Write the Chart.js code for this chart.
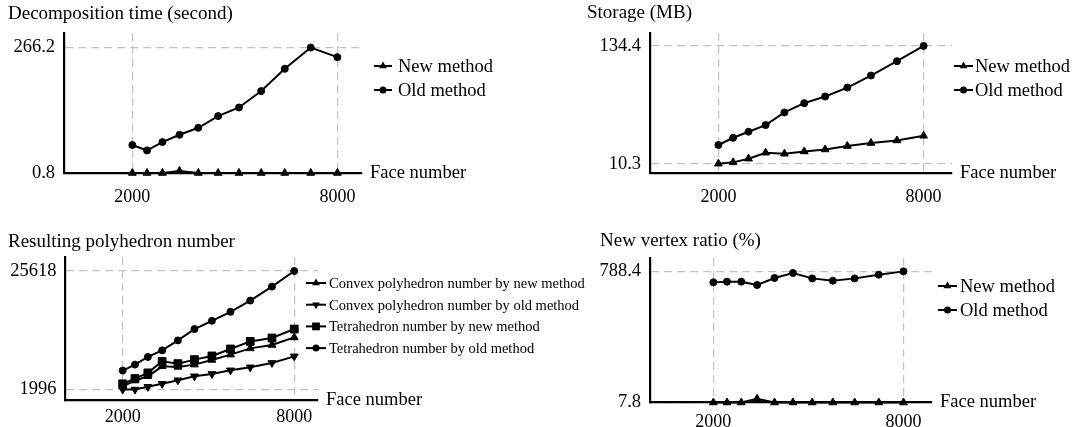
<!DOCTYPE html>
<html>
<head>
<meta charset="utf-8">
<script src="https://cdn.jsdelivr.net/npm/chart.js"></script>
<style>
  html, body { margin: 0; padding: 0; background: #fff; }
  #wrap { position: relative; width: 1079px; height: 427px; overflow: hidden; }
  #wrap canvas { position: absolute; left: 0; top: 0; }
</style>
</head>
<body>
<div id="wrap">
  <canvas id="c1" width="1079" height="427"></canvas>
  <canvas id="c2" width="1079" height="427"></canvas>
  <canvas id="c3" width="1079" height="427"></canvas>
  <canvas id="c4" width="1079" height="427"></canvas>
</div>
<script>
// face numbers (x values)
const faceNumbers = [2000, 2430, 2880, 3380, 3930, 4510, 5120, 5770, 6460, 7220, 8000];
const xTicks = [2000, 8000];

// decomposition time (second)
const timeNew = [0.8, 0.8, 0.8, 5, 0.8, 0.8, 0.8, 0.8, 0.8, 0.8, 0.8];
const timeOld = [60.0, 48.6, 66.3, 81.7, 96.5, 121.2, 139.4, 174.1, 221.2, 266.2, 245.9];
const timeTicks = [0.8, 266.2];

// storage (MB)
const storageNew = [10.3, 11.7, 15.6, 21.9, 20.8, 23.2, 25.3, 28.9, 32.1, 34.8, 39.7];
const storageOld = [30.0, 37.6, 44.0, 51.0, 64.3, 74.1, 81.1, 90.5, 103.2, 118.3, 134.4];
const storageTicks = [10.3, 134.4];

// resulting polyhedron number
const convexNew = [2651, 3783, 4636, 6621, 6502, 6959, 7891, 8944, 10194, 10869, 12378];
const convexOld = [1996, 1996, 2532, 3127, 3842, 4636, 5112, 5827, 6423, 7296, 8606];
const tetraNew = [3127, 4180, 5311, 7614, 7157, 7951, 8685, 10075, 11584, 12258, 14045];
const tetraOld = [5768, 6959, 8487, 9797, 11782, 14045, 15693, 17479, 19722, 22501, 25618];
const polyTicks = [1996, 25618];

// new vertex ratio (%)
const ratioNew = [7.8, 7.8, 7.8, 30, 7.8, 7.8, 7.8, 7.8, 7.8, 7.8, 7.8];
const ratioOld = [722.9, 727.1, 727.1, 707.4, 749.1, 778.9, 746.7, 733.0, 746.7, 768.8, 788.4];
const ratioTicks = [7.8, 788.4];

const SERIF = "'Liberation Serif', 'DejaVu Serif', serif";
Chart.defaults.font.family = SERIF;
Chart.defaults.font.size = 18;
Chart.defaults.color = '#000';

const W = 1079, H = 427;
const YW = 60, XH = 30;

function toPoints(values) {
  return values.map((v, i) => ({ x: faceNumbers[i], y: v }));
}

// style for each marker kind
const markers = {
  up:     { pointStyle: 'triangle', rotation: 0,   radius: 4.5 },
  down:   { pointStyle: 'triangle', rotation: 180, radius: 4.5 },
  square: { pointStyle: 'rect',     rotation: 0,   radius: 5.5 },
  circle: { pointStyle: 'circle',   rotation: 0,   radius: 3.5 }
};

function series(label, values, kind) {
  const m = markers[kind];
  return {
    label: label,
    data: toPoints(values),
    borderColor: '#000',
    backgroundColor: '#000',
    borderWidth: 2,
    pointStyle: m.pointStyle,
    pointRotation: m.rotation,
    pointRadius: m.radius,
    pointBorderWidth: 1,
    kind: kind,
    clip: false,
    tension: 0
  };
}

function drawMarker(ctx, kind, x, y) {
  const r = markers[kind].radius;
  ctx.beginPath();
  if (kind === 'circle') {
    ctx.arc(x, y, r, 0, Math.PI * 2);
  } else if (kind === 'square') {
    const s = r * Math.SQRT1_2;
    ctx.rect(x - s, y - s, 2 * s, 2 * s);
  } else {
    const d = kind === 'up' ? 1 : -1;
    const w = r * Math.sqrt(3) / 2;
    ctx.moveTo(x, y - d * r);
    ctx.lineTo(x - w, y + d * r / 2);
    ctx.lineTo(x + w, y + d * r / 2);
    ctx.closePath();
  }
  ctx.fill();
}

// draws the title, the "Face number" label and the legend
const decorations = {
  id: 'decorations',
  afterDraw(chart) {
    const o = chart.options.plugins.decorations;
    const ctx = chart.ctx;
    const area = chart.chartArea;
    ctx.save();
    ctx.fillStyle = '#000';
    ctx.strokeStyle = '#000';
    ctx.textBaseline = 'middle';
    ctx.textAlign = 'left';
    ctx.font = '19px ' + SERIF;
    ctx.fillText(o.title, o.titleX, o.titleY);
    ctx.font = '18.5px ' + SERIF;
    ctx.fillText('Face number', area.right + 8, area.bottom);

    ctx.font = o.legendSize + 'px ' + SERIF;
    chart.data.datasets.forEach((ds, i) => {
      const y = o.legendY + i * o.legendGap;
      ctx.lineWidth = 2;
      ctx.beginPath();
      ctx.moveTo(o.legendX, y);
      ctx.lineTo(o.legendX + o.legendLine, y);
      ctx.stroke();
      drawMarker(ctx, ds.kind, o.legendX + o.legendLine / 2, y);
      ctx.fillText(ds.label, o.textX, y + 1);
    });
    ctx.restore();
  }
};

function makePanel(id, area, datasets, yMin, yMax, yTicks, deco, xPad) {
  const ctx = document.getElementById(id).getContext('2d');
  return new Chart(ctx, {
    type: 'line',
    data: { datasets: datasets },
    plugins: [decorations],
    options: {
      responsive: false,
      animation: false,
      events: [],
      layout: {
        autoPadding: false,
        padding: {
          left: area.left - YW,
          top: area.top,
          right: W - area.right,
          bottom: H - area.bottom - XH
        }
      },
      plugins: {
        legend: { display: false },
        tooltip: { enabled: false },
        decorations: deco
      },
      scales: {
        x: {
          type: 'linear',
          min: 0,
          max: area.xMax,
          afterBuildTicks: (scale) => { scale.ticks = xTicks.map(v => ({ value: v })); },
          afterFit: (scale) => { scale.height = XH; },
          ticks: { padding: xPad, maxRotation: 0, callback: (v) => String(v) },
          grid: { drawTicks: false, color: '#c2c2c2', lineWidth: 1.2 },
          border: { display: true, color: '#000', width: 2.2, dash: [8, 5] }
        },
        y: {
          type: 'linear',
          min: yMin,
          max: yMax,
          afterBuildTicks: (scale) => { scale.ticks = yTicks.map(v => ({ value: v })); },
          afterFit: (scale) => { scale.width = YW; },
          ticks: { padding: 9, font: { size: 18.5 }, callback: (v) => String(v) },
          grid: { drawTicks: false, color: '#c2c2c2', lineWidth: 1.2 },
          border: { display: true, color: '#000', width: 2.2, dash: [8, 5] }
        }
      }
    }
  });
}

makePanel('c1',
  { left: 64, top: 33, right: 362, bottom: 173, xMax: 8720 },
  [series('New method', timeNew, 'up'), series('Old method', timeOld, 'circle')],
  0.8, 297, timeTicks,
  { title: 'Decomposition time (second)', titleX: 8, titleY: 14,
    legendX: 374, legendY: 66, legendGap: 24, legendLine: 18, textX: 398, legendSize: 18.5 },
  13);

makePanel('c2',
  { left: 650, top: 33, right: 952, bottom: 173, xMax: 8830 },
  [series('New method', storageNew, 'up'), series('Old method', storageOld, 'circle')],
  0.5, 148, storageTicks,
  { title: 'Storage (MB)', titleX: 587, titleY: 13,
    legendX: 954, legendY: 66, legendGap: 24, legendLine: 19, textX: 975, legendSize: 18.5 },
  13);

makePanel('c3',
  { left: 65.5, top: 257, right: 318, bottom: 400.5, xMax: 8830 },
  [series('Convex polyhedron number by new method', convexNew, 'up'),
   series('Convex polyhedron number by old method', convexOld, 'down'),
   series('Tetrahedron number by new method', tetraNew, 'square'),
   series('Tetrahedron number by old method', tetraOld, 'circle')],
  -190, 28400, polyTicks,
  { title: 'Resulting polyhedron number', titleX: 8, titleY: 242,
    legendX: 306, legendY: 283, legendGap: 21.7, legendLine: 20, textX: 329, legendSize: 14.5 },
  6);

makePanel('c4',
  { left: 650, top: 258, right: 932, bottom: 402.5, xMax: 8900 },
  [series('New method', ratioNew, 'up'), series('Old method', ratioOld, 'circle')],
  7.8, 868, ratioTicks,
  { title: 'New vertex ratio (%)', titleX: 600, titleY: 241,
    legendX: 938, legendY: 286, legendGap: 24, legendLine: 19, textX: 960, legendSize: 18.5 },
  9);
</script>
</body>
</html>
